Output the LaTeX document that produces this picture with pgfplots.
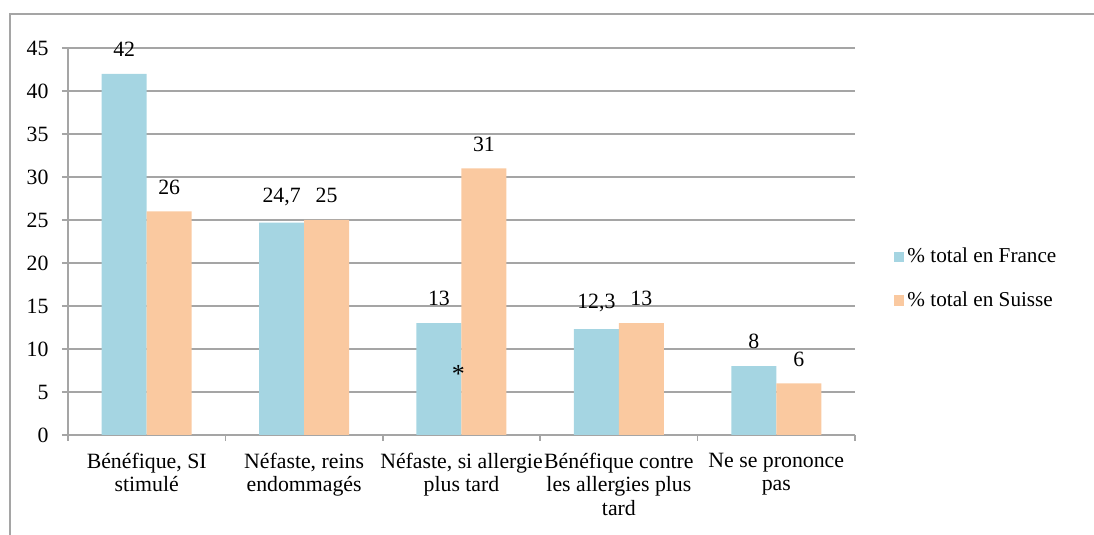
\documentclass[border=0pt]{standalone}
\usepackage{fontspec}
\setmainfont{Liberation Serif}
\usepackage{pgfplots}
\pgfplotsset{compat=1.18}

\definecolor{franceblue}{RGB}{165,213,226}
\definecolor{suissepeach}{RGB}{250,201,160}
\definecolor{gridgray}{RGB}{165,165,165}

\begin{document}
\begin{tikzpicture}
% outer frame (only top and left edges visible)
\draw[gridgray, line width=0.8pt] (5pt,-20pt) -- (5pt,260.5pt) -- (560pt,260.5pt);

\begin{axis}[
    at={(34pt,50pt)}, anchor=south west,
    scale only axis,
    width=393.5pt, height=193.5pt,
    ybar=0pt,
    bar width=22.5pt,
    xmin=-0.5, xmax=4.5,
    ymin=0, ymax=45,
    ytick={0,5,...,45},
    xtick={0,1,2,3,4},
    xticklabels={{Bénéfique, SI\\stimulé},{Néfaste, reins\\endommagés},{Néfaste, si allergie\\plus tard},{Bénéfique contre\\les allergies plus\\tard},{Ne se prononce\\pas}},
    xticklabel style={align=center, yshift=-2.5pt},
    xtick style={draw=none},
    extra x ticks={-0.5,0.5,1.5,2.5,3.5,4.5},
    extra x tick labels={},
    extra x tick style={grid=none, xtick style={draw=gridgray, line width=0.8pt}},
    tick align=outside,
    major tick length=3pt,
    ytick style={draw=gridgray, line width=0.8pt},
    yticklabel style={xshift=-3.2pt},
    axis lines*=left,
    axis line style={draw=gridgray, line width=0.8pt},
    ymajorgrids=true,
    grid style={draw=gridgray, line width=0.8pt},
    tick label style={font=\fontsize{10.9}{11.7}\selectfont},
    /pgf/number format/assume math mode=true,
    nodes near coords={\pgfmathprintnumber[use comma]{\pgfplotspointmeta}},
    every node near coord/.append style={font=\fontsize{10.9}{11.7}\selectfont, yshift=5pt},
    legend style={at={(1.042,0.502)}, anchor=north west, draw=none, fill=none,
        font=\fontsize{10.6}{11.7}\selectfont, row sep=10pt,
        nodes={inner sep=1.5pt}},
    legend cell align=left,
]
\addplot[draw=none, fill=franceblue,
    legend image code/.code={\fill[franceblue] (0pt,-2.7pt) rectangle (5pt,2.7pt);}]
    coordinates {(0,42) (1,24.7) (2,13) (3,12.3) (4,8)};
\addplot[draw=none, fill=suissepeach,
    legend image code/.code={\fill[suissepeach] (0pt,-2.7pt) rectangle (5pt,2.7pt);}]
    coordinates {(0,26) (1,25) (2,31) (3,13) (4,6)};
\legend{\% total en France, \% total en Suisse}
\node[anchor=base, yshift=-7pt, font=\fontsize{13}{13}\selectfont] at (axis cs:1.98,7.7) {*};
\end{axis}

\pgfresetboundingbox
\path[use as bounding box] (0,0) rectangle (547pt,267.5pt);
\end{tikzpicture}
\end{document}
